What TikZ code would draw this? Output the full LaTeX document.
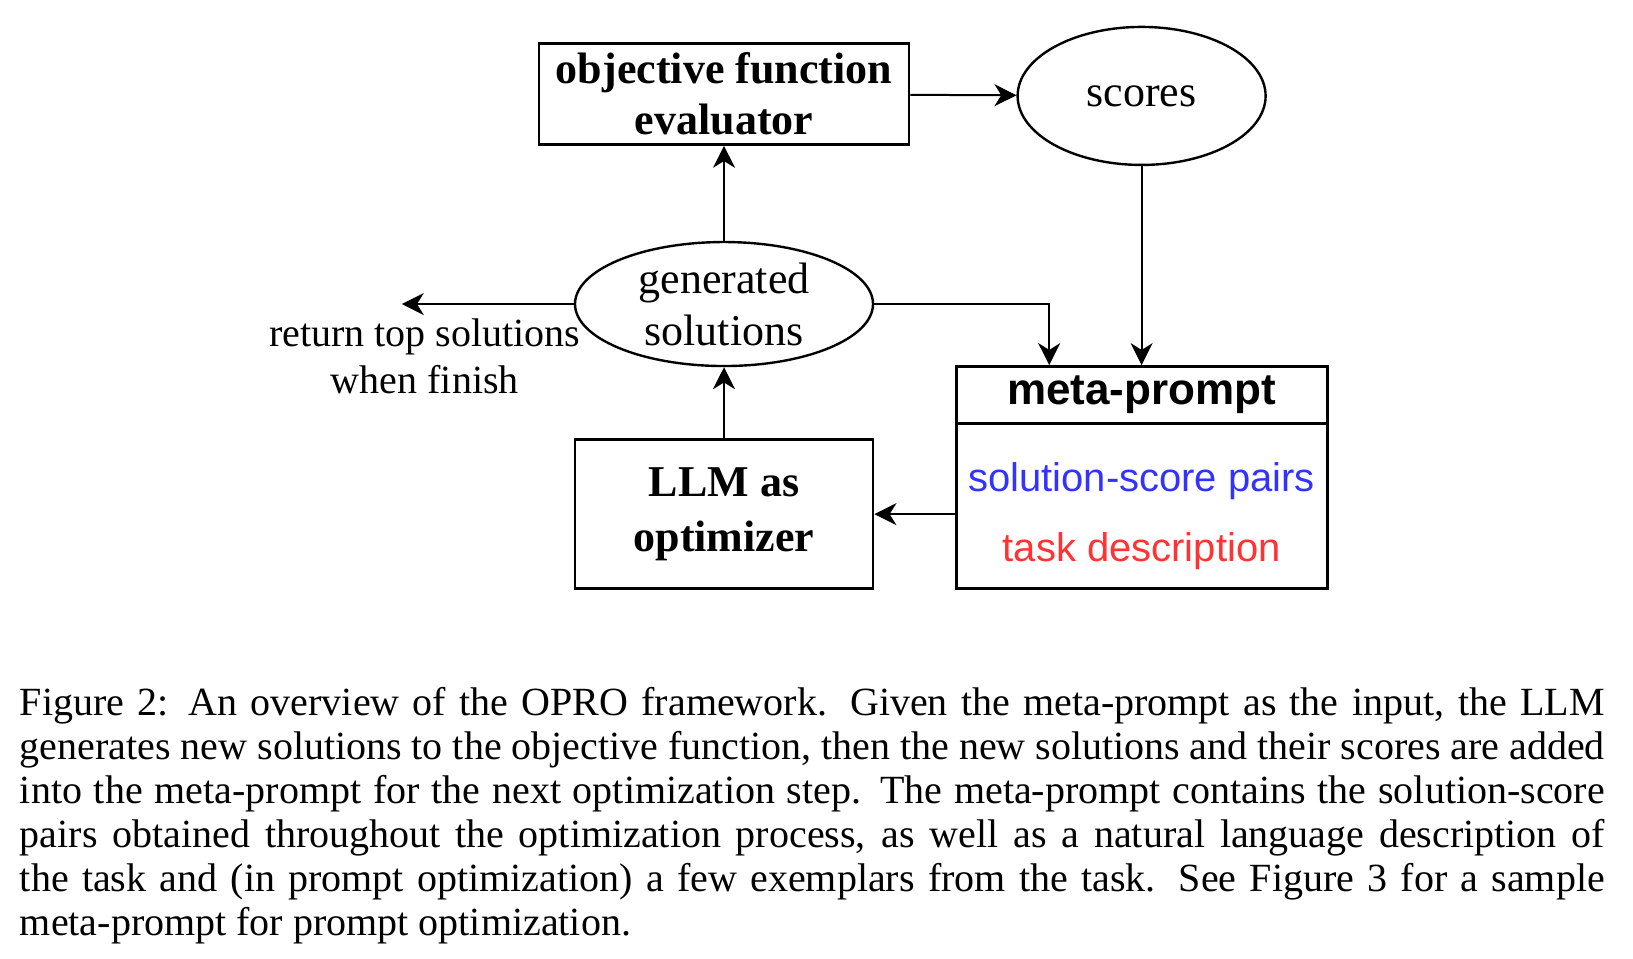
\documentclass[tikz,border=0pt]{standalone}
\usepackage{fontspec}
\setmainfont{Liberation Serif}
\setsansfont{Liberation Sans}
\usepackage{tikz}
\usetikzlibrary{positioning, calc, arrows.meta, shapes.geometric}
\tikzset{>={Stealth[length=5.5pt, width=5.5pt, inset=1.7pt]}}
\tikzset{plain box/.style={draw, line width=0.7pt, inner sep=0pt, align=center}}
\tikzset{data ellipse/.style={draw, ellipse, line width=0.6pt, inner sep=0pt, align=center,
    font=\fontsize{11}{13}\selectfont}}
\definecolor{pairblue}{RGB}{51,51,255}
\definecolor{taskred}{RGB}{255,51,51}

\begin{document}
\begin{tikzpicture}[x=0.25pt, y=-0.25pt, line width=0.5pt]
    \useasboundingbox (0,0) rectangle (1633,958);

    \node[data ellipse, minimum width=74.5pt, minimum height=31pt] (gen) at (724,304) {generated\\solutions};
    \node[plain box, minimum width=92.5pt, minimum height=25.25pt,
      font=\fontsize{11}{12.75}\selectfont\bfseries, above=23.75pt of gen] (obj) {objective function\\evaluator};
    \node[data ellipse, minimum width=62pt, minimum height=34.5pt, right=26.5pt of obj, yshift=-0.5pt] (scores) {scores};

    \node[plain box, minimum width=74.5pt, minimum height=37.25pt,
      font=\fontsize{11}{13.75}\selectfont\bfseries, below=17.75pt of gen] (llm) {LLM as\\optimizer};

    \node[plain box, minimum width=92.75pt, minimum height=55.5pt, below=49.75pt of scores] (meta) {};
    \node[plain box, minimum width=92.75pt, minimum height=14.25pt, anchor=north,
      font=\fontsize{11}{13}\selectfont\sffamily\bfseries] (meta-title) at (meta.north) {meta-prompt};
    \node[below=9.25pt of meta-title, inner sep=0pt, align=center,
      font=\fontsize{10}{17.5}\selectfont\sffamily] (meta-items)
      {\textcolor{pairblue}{solution-score pairs}\\\textcolor{taskred}{task description}};

    \coordinate[left=43pt of gen.west] (ret-end);

    \draw[->] (gen) to (obj);
    \draw[->] (obj) to (scores);
    \draw[->] (scores.south) to (scores.south |- meta.north);
    \draw[->] (gen.east) -| ([xshift=-23.1pt]meta.north);
    \draw[->] (meta.west |- llm.east) to (llm.east);
    \draw[->] (llm) to (gen);
    \draw[->] (gen.west) to node[pos=0.866, below, align=center, font=\fontsize{10}{11.75}\selectfont]
      (ret-label) {return top solutions\\when finish} (ret-end);

    \node[anchor=north west, inner sep=0pt, text width=396.2pt, align=justify,
      font=\fontsize{10}{11}\selectfont] (caption) at (19,686)
      {Figure 2: An overview of the OPRO framework. Given the meta-prompt as the input, the LLM\linebreak
      generates new solutions to the objective function, then the new solutions and their scores are added\linebreak
      into the meta-prompt for the next optimization step. The meta-prompt contains the solution-score\linebreak
      pairs obtained throughout the optimization process, as well as a natural language description of\linebreak
      the task and (in prompt optimization) a few exemplars from the task. See Figure 3 for a sample\linebreak
      meta-prompt for prompt optimization.};
  \end{tikzpicture}
\end{document}
